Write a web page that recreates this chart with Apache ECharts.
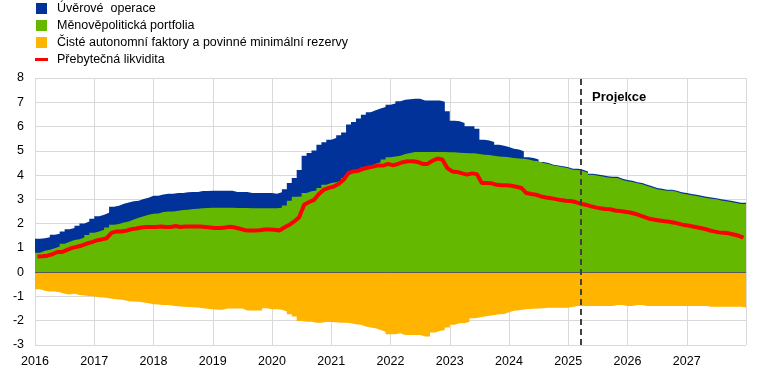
<!DOCTYPE html>
<html lang="cs">
<head>
<meta charset="UTF-8">
<title>Přebytečná likvidita</title>
<script src="https://cdn.jsdelivr.net/npm/echarts@6/dist/echarts.min.js"></script>
<style>
  html, body { margin: 0; padding: 0; background: #fff; }
  #chart { width: 769px; height: 371px; }
</style>
</head>
<body>
<div id="chart"></div>
<script>
// monthly values, Jan 2016 .. Dec 2027 (144 months), bil. EUR trillions
var years = ['2016', '2017', '2018', '2019', '2020', '2021', '2022', '2023', '2024', '2025', '2026', '2027'];

var seriesNames = ['Úvěrové  operace', 'Měnověpolitická portfolia',
  'Čisté autonomní faktory a povinné minimální rezervy', 'Přebytečná likvidita'];

// Úvěrové operace
var lendingOps = [
  0.58, 0.52, 0.52, 0.55, 0.52, 0.51, 0.52, 0.49, 0.55, 0.58, 0.56, 0.58,
  0.62, 0.62, 0.61, 0.75, 0.76, 0.77, 0.78, 0.75, 0.70, 0.71, 0.70, 0.74,
  0.73, 0.72, 0.73, 0.73, 0.73, 0.70, 0.72, 0.70, 0.69, 0.71, 0.70, 0.71,
  0.71, 0.71, 0.71, 0.71, 0.66, 0.66, 0.66, 0.63, 0.63, 0.63, 0.63, 0.63,
  0.60, 0.64, 0.67, 0.73, 0.77, 1.09, 1.54, 1.58, 1.64, 1.78, 1.75, 1.79,
  1.82, 1.87, 1.87, 2.06, 2.06, 2.11, 2.17, 2.19, 2.20, 2.21, 2.17, 2.17,
  2.18, 2.24, 2.23, 2.21, 2.20, 2.20, 2.12, 2.12, 2.12, 2.12, 2.07, 1.69,
  1.30, 1.30, 1.24, 1.11, 1.11, 1.04, 0.62, 0.59, 0.56, 0.48, 0.45, 0.43,
  0.39, 0.37, 0.31, 0.09, 0.11, 0.07, 0.04, 0.04, 0.03, 0.04, 0.04, 0.04,
  0.04, 0.05, 0.05, 0.05, 0.05, 0.05, 0.05, 0.05, 0.05, 0.05, 0.05, 0.05,
  0.05, 0.05, 0.05, 0.05, 0.05, 0.05, 0.05, 0.05, 0.05, 0.05, 0.05, 0.05,
  0.05, 0.05, 0.05, 0.05, 0.05, 0.05, 0.05, 0.05, 0.05, 0.05, 0.05, 0.05
];

// Měnověpolitická portfolia
var policyPortfolios = [
  0.80, 0.88, 0.92, 0.99, 1.06, 1.17, 1.25, 1.33, 1.36, 1.43, 1.53, 1.62,
  1.68, 1.75, 1.84, 1.95, 1.98, 2.05, 2.09, 2.17, 2.24, 2.30, 2.37, 2.41,
  2.42, 2.48, 2.50, 2.50, 2.53, 2.56, 2.57, 2.60, 2.61, 2.63, 2.64, 2.65,
  2.65, 2.65, 2.65, 2.65, 2.64, 2.64, 2.64, 2.63, 2.63, 2.63, 2.63, 2.63,
  2.63, 2.65, 2.75, 2.94, 3.11, 3.12, 3.26, 3.33, 3.37, 3.47, 3.60, 3.67,
  3.71, 3.77, 3.88, 4.02, 4.13, 4.22, 4.32, 4.40, 4.47, 4.53, 4.64, 4.73,
  4.77, 4.80, 4.87, 4.91, 4.95, 4.95, 4.95, 4.95, 4.95, 4.95, 4.95, 4.94,
  4.94, 4.92, 4.91, 4.90, 4.90, 4.87, 4.84, 4.83, 4.80, 4.77, 4.76, 4.73,
  4.70, 4.68, 4.67, 4.64, 4.59, 4.57, 4.50, 4.46, 4.40, 4.36, 4.32, 4.28,
  4.22, 4.21, 4.17, 4.10, 4.01, 3.97, 3.94, 3.90, 3.88, 3.88, 3.80, 3.75,
  3.72, 3.66, 3.62, 3.55, 3.49, 3.42, 3.39, 3.35, 3.35, 3.31, 3.24, 3.21,
  3.17, 3.14, 3.10, 3.06, 3.03, 3.00, 2.95, 2.92, 2.89, 2.85, 2.81, 2.81
];

// Čisté autonomní faktory a povinné minimální rezervy
var autonomousFactors = [
  -0.70, -0.76, -0.80, -0.80, -0.83, -0.89, -0.92, -0.89, -0.94, -0.96, -0.98, -1.00,
  -1.03, -1.04, -1.07, -1.10, -1.13, -1.15, -1.20, -1.21, -1.22, -1.25, -1.28, -1.32,
  -1.33, -1.35, -1.35, -1.38, -1.40, -1.42, -1.43, -1.44, -1.46, -1.49, -1.51, -1.53,
  -1.55, -1.55, -1.50, -1.50, -1.50, -1.50, -1.58, -1.58, -1.58, -1.58, -1.49, -1.53,
  -1.53, -1.55, -1.62, -1.73, -1.83, -2.01, -2.04, -2.04, -2.08, -2.08, -2.05, -2.05,
  -2.06, -2.08, -2.08, -2.10, -2.15, -2.17, -2.24, -2.28, -2.31, -2.38, -2.45, -2.56,
  -2.56, -2.52, -2.59, -2.59, -2.59, -2.59, -2.65, -2.65, -2.48, -2.42, -2.38, -2.28,
  -2.17, -2.10, -2.10, -2.04, -1.90, -1.87, -1.83, -1.80, -1.76, -1.73, -1.72, -1.65,
  -1.59, -1.57, -1.54, -1.52, -1.51, -1.50, -1.49, -1.47, -1.47, -1.47, -1.47, -1.47,
  -1.42, -1.39, -1.39, -1.39, -1.39, -1.39, -1.39, -1.39, -1.39, -1.35, -1.35, -1.39,
  -1.39, -1.35, -1.35, -1.39, -1.39, -1.39, -1.39, -1.39, -1.39, -1.39, -1.39, -1.39,
  -1.39, -1.39, -1.39, -1.39, -1.42, -1.42, -1.42, -1.42, -1.42, -1.42, -1.42, -1.46
];

// Přebytečná likvidita
var excessLiquidity = [
  0.65, 0.66, 0.68, 0.74, 0.83, 0.83, 0.92, 1.00, 1.05, 1.10, 1.18, 1.24,
  1.31, 1.35, 1.40, 1.62, 1.68, 1.68, 1.71, 1.77, 1.80, 1.84, 1.86, 1.86,
  1.86, 1.88, 1.86, 1.86, 1.90, 1.86, 1.88, 1.88, 1.88, 1.88, 1.86, 1.84,
  1.82, 1.82, 1.84, 1.87, 1.84, 1.79, 1.73, 1.72, 1.72, 1.73, 1.76, 1.76,
  1.75, 1.72, 1.84, 1.95, 2.09, 2.26, 2.78, 2.89, 2.98, 3.22, 3.40, 3.47,
  3.53, 3.63, 3.81, 4.09, 4.15, 4.18, 4.26, 4.31, 4.35, 4.40, 4.39, 4.46,
  4.40, 4.46, 4.53, 4.57, 4.57, 4.54, 4.46, 4.46, 4.59, 4.68, 4.64, 4.29,
  4.15, 4.13, 4.07, 4.02, 4.07, 4.04, 3.67, 3.67, 3.66, 3.60, 3.58, 3.58,
  3.56, 3.52, 3.47, 3.26, 3.22, 3.19, 3.12, 3.08, 3.05, 3.01, 2.97, 2.94,
  2.93, 2.89, 2.82, 2.78, 2.72, 2.67, 2.63, 2.60, 2.59, 2.54, 2.52, 2.49,
  2.46, 2.41, 2.34, 2.27, 2.20, 2.16, 2.13, 2.10, 2.08, 2.04, 1.99, 1.94,
  1.91, 1.87, 1.83, 1.79, 1.73, 1.68, 1.64, 1.62, 1.60, 1.55, 1.50, 1.42
];

// projection starts here (months since Jan 2016)
var projectionStart = 110.5;

// each month is a step [i, i+1]; repeat last value to close the final step
function stepData(arr) {
  var out = arr.map(function (v, i) { return [i, v]; });
  out.push([arr.length, arr[arr.length - 1]]);
  return out;
}
function midData(arr) {
  return arr.map(function (v, i) { return [i + 0.5, v]; });
}
// lending operations sit on top of the portfolios (manual stack)
var lendingTop = lendingOps.map(function (v, i) {
  return Math.round((v + policyPortfolios[i]) * 100) / 100;
});

var font = '"Liberation Sans", Arial, sans-serif';
var squareIcon = 'path://M0,0H11V11H0Z';
var lineIcon = 'path://M0,0H13V3H0Z';

function areaSeries(name, color, values) {
  return {
    name: name,
    type: 'line',
    step: 'end',
    symbol: 'none',
    color: color,
    lineStyle: { width: 0 },
    areaStyle: { color: color, opacity: 1 },
    data: stepData(values)
  };
}

var chart = echarts.init(document.getElementById('chart'));
var option = {
  animation: false,
  textStyle: { fontFamily: font },
  grid: { left: 35, right: 23, top: 78, bottom: 26, containLabel: false },
  legend: {
    orient: 'vertical',
    left: 35,
    top: 2,
    padding: 0,
    itemGap: 4,
    itemWidth: 13,
    itemHeight: 11,
    selectedMode: false,
    textStyle: { fontSize: 12.5, color: '#000', fontFamily: font, padding: [0, 0, 0, 4] },
    data: [
      { name: seriesNames[0], icon: squareIcon, itemStyle: { borderWidth: 0 } },
      { name: seriesNames[1], icon: squareIcon, itemStyle: { borderWidth: 0 } },
      { name: seriesNames[2], icon: squareIcon, itemStyle: { borderWidth: 0 } },
      { name: seriesNames[3], icon: lineIcon, itemStyle: { borderWidth: 0 } }
    ]
  },
  xAxis: {
    type: 'value',
    min: 0,
    max: 144,
    interval: 12,
    axisLine: { show: false },
    axisTick: { show: false },
    axisLabel: {
      color: '#000', fontSize: 12.5, margin: 10, showMaxLabel: false,
      formatter: function (v) { return years[v / 12] || ''; }
    },
    splitLine: { lineStyle: { color: '#d9d9d9', width: 1 } }
  },
  yAxis: {
    type: 'value',
    min: -3,
    max: 8,
    interval: 1,
    axisLine: { show: false },
    axisTick: { show: false },
    axisLabel: { color: '#000', fontSize: 12.5, margin: 11 },
    splitLine: { lineStyle: { color: '#d9d9d9', width: 1 } }
  },
  series: [
    areaSeries(seriesNames[2], '#ffb400', autonomousFactors),
    areaSeries(seriesNames[0], '#003299', lendingTop),
    areaSeries(seriesNames[1], '#65b800', policyPortfolios),
    {
      name: seriesNames[3],
      type: 'line',
      symbol: 'none',
      color: '#ff0000',
      lineStyle: { width: 4, color: '#ff0000' },
      data: midData(excessLiquidity),
      markLine: {
        silent: true,
        symbol: ['none', 'none'],
        label: { show: false },
        data: [
          { yAxis: 0, lineStyle: { color: '#595959', width: 1, type: 'solid' } },
          { xAxis: projectionStart, lineStyle: { color: '#404040', width: 2, type: [6, 4] } }
        ]
      }
    }
  ],
  graphic: [
    {
      type: 'text',
      left: 592,
      top: 91,
      style: { text: 'Projekce', font: 'bold 13px ' + font, fill: '#000' }
    }
  ]
};
chart.setOption(option);
</script>
</body>
</html>
